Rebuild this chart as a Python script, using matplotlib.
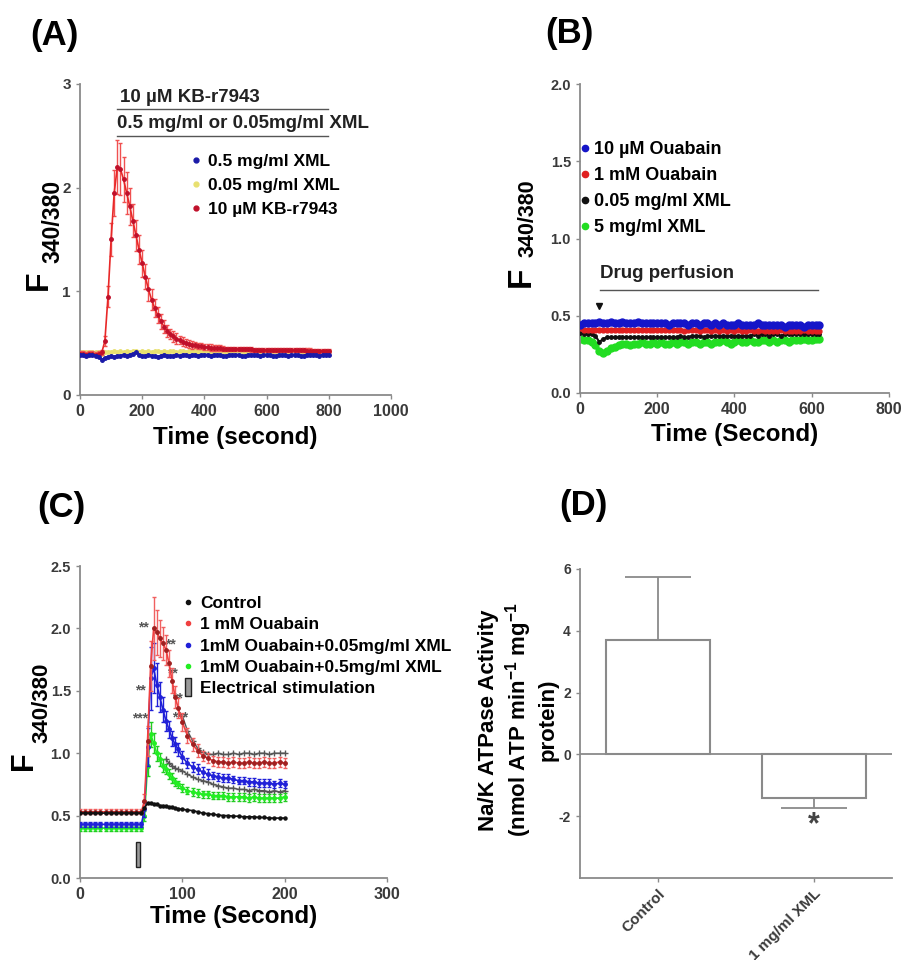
import numpy as np
import matplotlib
matplotlib.use("Agg")
import matplotlib.pyplot as plt
from matplotlib.lines import Line2D

plt.rcParams["font.family"] = ["Liberation Sans", "DejaVu Sans"]
plt.rcParams["font.weight"] = "bold"
plt.rcParams["axes.labelweight"] = "bold"
plt.rcParams["axes.unicode_minus"] = False
plt.rcParams["mathtext.fontset"] = "custom"
plt.rcParams["mathtext.rm"] = "Liberation Sans:bold"
plt.rcParams["mathtext.bf"] = "Liberation Sans:bold"
plt.rcParams["mathtext.default"] = "bf"

# ---------------- (A) KB-r7943 vs XML ----------------
A_time = np.arange(0, 810, 10)
A_kb = [0.40, 0.40, 0.39, 0.40, 0.40, 0.39, 0.40, 0.41, 0.52, 0.95,
        1.50, 1.95, 2.20, 2.18, 2.08, 1.95, 1.82, 1.68, 1.54, 1.40,
        1.27, 1.14, 1.02, 0.92, 0.84, 0.77, 0.71, 0.66, 0.62, 0.59,
        0.565, 0.545, 0.53, 0.515, 0.50, 0.49, 0.485, 0.48, 0.475, 0.47,
        0.465, 0.46, 0.458, 0.455, 0.452, 0.45, 0.448, 0.446, 0.445, 0.444,
        0.443, 0.442, 0.441, 0.44, 0.44, 0.439, 0.438, 0.437, 0.437, 0.436,
        0.435, 0.435, 0.434, 0.434, 0.433, 0.433, 0.432, 0.432, 0.431, 0.431,
        0.43, 0.43, 0.43, 0.429, 0.429, 0.428, 0.428, 0.428, 0.427, 0.427,
        0.427]
A_kb_err = [0.02, 0.02, 0.02, 0.02, 0.02, 0.02, 0.02, 0.02, 0.05, 0.10,
            0.16, 0.22, 0.26, 0.25, 0.22, 0.20, 0.18, 0.16, 0.15, 0.14,
            0.13, 0.12, 0.11, 0.10, 0.09, 0.08, 0.07, 0.06, 0.06, 0.05,
            0.05, 0.05, 0.04, 0.04, 0.04, 0.04, 0.04, 0.03, 0.03, 0.03,
            0.03, 0.03, 0.03, 0.03, 0.03, 0.03, 0.02, 0.02, 0.02, 0.02,
            0.02, 0.02, 0.02, 0.02, 0.02, 0.02, 0.02, 0.02, 0.02, 0.02,
            0.02, 0.02, 0.02, 0.02, 0.02, 0.02, 0.02, 0.02, 0.02, 0.02,
            0.02, 0.02, 0.02, 0.02, 0.02, 0.02, 0.02, 0.02, 0.02, 0.02,
            0.02]
A_xml05 = [0.39, 0.39, 0.38, 0.39, 0.39, 0.38, 0.37, 0.34, 0.36, 0.37,
           0.38, 0.37, 0.38, 0.38, 0.39, 0.38, 0.39, 0.40, 0.41, 0.39,
           0.38, 0.38, 0.39, 0.38, 0.38, 0.37, 0.38, 0.39, 0.38, 0.38,
           0.38, 0.39, 0.38, 0.39, 0.39, 0.38, 0.39, 0.39, 0.38, 0.39,
           0.39, 0.39, 0.38, 0.39, 0.39, 0.39, 0.38, 0.38, 0.39, 0.39,
           0.39, 0.39, 0.38, 0.38, 0.39, 0.39, 0.39, 0.39, 0.38, 0.39,
           0.39, 0.39, 0.38, 0.38, 0.39, 0.39, 0.39, 0.38, 0.39, 0.39,
           0.39, 0.38, 0.38, 0.39, 0.39, 0.39, 0.39, 0.38, 0.39, 0.39,
           0.39]
A_xml005 = [0.41, 0.41, 0.41, 0.41, 0.41, 0.41, 0.41, 0.40, 0.41, 0.41,
            0.41, 0.42, 0.41, 0.42, 0.41, 0.42, 0.41, 0.42, 0.42, 0.41,
            0.42, 0.41, 0.42, 0.41, 0.42, 0.42, 0.41, 0.42, 0.41, 0.42,
            0.42, 0.41, 0.42, 0.42, 0.41, 0.42, 0.42, 0.42, 0.41, 0.42,
            0.42, 0.42, 0.41, 0.42, 0.42, 0.42, 0.42, 0.41, 0.42, 0.42,
            0.42, 0.42, 0.42, 0.41, 0.42, 0.42, 0.42, 0.42, 0.42, 0.41,
            0.42, 0.42, 0.42, 0.42, 0.42, 0.41, 0.42, 0.42, 0.42, 0.42,
            0.42, 0.42, 0.41, 0.42, 0.42, 0.42, 0.42, 0.42, 0.42, 0.42,
            0.42]

# ---------------- (B) Ouabain / XML ----------------
B_time = np.arange(0, 630, 10)
B_oua10 = [0.44, 0.45, 0.45, 0.45, 0.45, 0.46, 0.45, 0.45, 0.46, 0.45,
           0.45, 0.46, 0.45, 0.45, 0.45, 0.46, 0.45, 0.45, 0.45, 0.45,
           0.45, 0.45, 0.45, 0.44, 0.45, 0.45, 0.45, 0.45, 0.44, 0.45,
           0.45, 0.44, 0.45, 0.45, 0.44, 0.45, 0.44, 0.45, 0.44, 0.44,
           0.44, 0.45, 0.44, 0.44, 0.44, 0.44, 0.45, 0.44, 0.44, 0.44,
           0.44, 0.44, 0.44, 0.43, 0.44, 0.44, 0.44, 0.44, 0.43, 0.44,
           0.44, 0.44, 0.44]
B_oua1 = [0.42, 0.41, 0.41, 0.41, 0.41, 0.41, 0.41, 0.41, 0.41, 0.41,
          0.41, 0.41, 0.41, 0.41, 0.41, 0.41, 0.41, 0.41, 0.41, 0.41,
          0.41, 0.41, 0.41, 0.41, 0.41, 0.41, 0.41, 0.40, 0.41, 0.41,
          0.41, 0.40, 0.41, 0.41, 0.40, 0.41, 0.40, 0.41, 0.40, 0.41,
          0.40, 0.41, 0.40, 0.40, 0.41, 0.40, 0.40, 0.41, 0.40, 0.40,
          0.40, 0.40, 0.41, 0.40, 0.40, 0.40, 0.40, 0.40, 0.41, 0.40,
          0.40, 0.40, 0.40]
B_xml005 = [0.39, 0.38, 0.38, 0.38, 0.37, 0.33, 0.35, 0.36, 0.36, 0.36,
            0.36, 0.36, 0.36, 0.36, 0.36, 0.36, 0.36, 0.36, 0.36, 0.36,
            0.36, 0.36, 0.36, 0.36, 0.36, 0.36, 0.37, 0.36, 0.36, 0.37,
            0.37, 0.37, 0.36, 0.37, 0.37, 0.37, 0.37, 0.37, 0.37, 0.37,
            0.37, 0.37, 0.37, 0.37, 0.37, 0.38, 0.37, 0.38, 0.38, 0.37,
            0.38, 0.38, 0.37, 0.38, 0.38, 0.38, 0.38, 0.38, 0.38, 0.38,
            0.38, 0.38, 0.38]
B_xml5 = [0.35, 0.34, 0.34, 0.33, 0.31, 0.27, 0.26, 0.27, 0.29, 0.30,
          0.31, 0.32, 0.32, 0.31, 0.32, 0.32, 0.33, 0.32, 0.32, 0.33,
          0.32, 0.33, 0.32, 0.32, 0.33, 0.32, 0.33, 0.33, 0.32, 0.33,
          0.33, 0.32, 0.33, 0.33, 0.32, 0.33, 0.33, 0.34, 0.33, 0.32,
          0.33, 0.34, 0.33, 0.33, 0.34, 0.33, 0.33, 0.34, 0.34, 0.33,
          0.34, 0.33, 0.34, 0.34, 0.33, 0.34, 0.34, 0.34, 0.35, 0.34,
          0.34, 0.35, 0.35]

# ---------------- (C) Electrical stimulation ----------------
C_time = [0, 5, 10, 15, 20, 25, 30, 35, 40, 45, 50, 55, 60,
          63, 66, 69, 72, 75, 78, 81, 84, 87, 90, 93, 96,
          100, 105, 110, 115, 120, 125, 130, 135, 140, 145, 150,
          155, 160, 165, 170, 175, 180, 185, 190, 195, 200]
C_control = [0.52, 0.52, 0.52, 0.52, 0.52, 0.52, 0.52, 0.52, 0.52, 0.52, 0.52, 0.52, 0.52,
             0.56, 0.60, 0.60, 0.59, 0.59, 0.58, 0.58, 0.575, 0.57, 0.565, 0.56, 0.555,
             0.55, 0.545, 0.54, 0.53, 0.52, 0.515, 0.51, 0.505, 0.50, 0.50, 0.495,
             0.495, 0.49, 0.49, 0.49, 0.485, 0.485, 0.48, 0.48, 0.48, 0.48]
C_oua = [0.53, 0.53, 0.53, 0.53, 0.53, 0.53, 0.53, 0.53, 0.53, 0.53, 0.53, 0.53, 0.53,
         0.62, 1.10, 1.70, 2.00, 1.97, 1.92, 1.88, 1.83, 1.72, 1.58, 1.45, 1.36,
         1.25, 1.14, 1.07, 1.02, 0.98, 0.96, 0.94, 0.93, 0.93, 0.92, 0.93,
         0.92, 0.92, 0.93, 0.92, 0.92, 0.93, 0.92, 0.92, 0.93, 0.92]
C_oua_err = [0.02, 0.02, 0.02, 0.02, 0.02, 0.02, 0.02, 0.02, 0.02, 0.02, 0.02, 0.02, 0.02,
             0.05, 0.12, 0.20, 0.25, 0.18, 0.15, 0.13, 0.12, 0.11, 0.10, 0.09, 0.08,
             0.07, 0.06, 0.05, 0.05, 0.04, 0.04, 0.04, 0.04, 0.04, 0.04, 0.04,
             0.04, 0.04, 0.04, 0.04, 0.04, 0.04, 0.04, 0.04, 0.04, 0.04]
C_oua005 = [0.43, 0.43, 0.43, 0.43, 0.43, 0.43, 0.43, 0.43, 0.43, 0.43, 0.43, 0.43, 0.43,
            0.55, 1.05, 1.60, 1.68, 1.55, 1.45, 1.35, 1.26, 1.19, 1.12, 1.07, 1.03,
            0.97, 0.92, 0.89, 0.87, 0.85, 0.83, 0.82, 0.81, 0.80, 0.80, 0.79,
            0.78, 0.78, 0.77, 0.77, 0.76, 0.76, 0.76, 0.75, 0.76, 0.75]
C_oua005_err = [0.02, 0.02, 0.02, 0.02, 0.02, 0.02, 0.02, 0.02, 0.02, 0.02, 0.02, 0.02, 0.02,
                0.06, 0.15, 0.25, 0.20, 0.17, 0.12, 0.10, 0.08, 0.07, 0.06, 0.06, 0.05,
                0.05, 0.04, 0.04, 0.04, 0.04, 0.04, 0.03, 0.03, 0.03, 0.03, 0.03,
                0.03, 0.03, 0.03, 0.03, 0.03, 0.03, 0.03, 0.03, 0.03, 0.03]
C_oua05 = [0.40, 0.40, 0.40, 0.40, 0.40, 0.40, 0.40, 0.40, 0.40, 0.40, 0.40, 0.40, 0.40,
           0.50, 0.90, 1.15, 1.08, 1.00, 0.95, 0.90, 0.87, 0.83, 0.80, 0.77, 0.75,
           0.72, 0.70, 0.69, 0.68, 0.67, 0.67, 0.66, 0.66, 0.66, 0.65, 0.65,
           0.65, 0.65, 0.64, 0.65, 0.64, 0.64, 0.64, 0.64, 0.64, 0.65]
C_oua05_err = [0.02, 0.02, 0.02, 0.02, 0.02, 0.02, 0.02, 0.02, 0.02, 0.02, 0.02, 0.02, 0.02,
               0.04, 0.08, 0.10, 0.08, 0.06, 0.05, 0.05, 0.04, 0.04, 0.04, 0.03, 0.03,
               0.03, 0.03, 0.03, 0.03, 0.03, 0.03, 0.03, 0.03, 0.03, 0.03, 0.03,
               0.03, 0.03, 0.03, 0.03, 0.03, 0.03, 0.03, 0.03, 0.03, 0.03]
nan = np.nan
C_grey_hi = [nan, nan, nan, nan, nan, nan, nan, nan, nan, nan, nan, nan, nan,
             nan, nan, nan, nan, nan, nan, nan, nan, nan, nan, nan, nan,
             1.30, 1.18, 1.10, 1.04, 1.01, 0.99, 0.99, 1.00, 0.99, 0.99, 1.00,
             0.99, 1.00, 1.00, 0.99, 1.00, 1.00, 0.99, 1.00, 1.00, 1.00]
C_grey_lo = [nan, nan, nan, nan, nan, nan, nan, nan, nan, nan, nan, nan, nan,
             nan, nan, nan, nan, nan, nan, nan, 0.95, 0.92, 0.90, 0.88, 0.87,
             0.86, 0.83, 0.81, 0.79, 0.78, 0.77, 0.75, 0.74, 0.73, 0.72, 0.72,
             0.71, 0.71, 0.70, 0.71, 0.70, 0.70, 0.69, 0.70, 0.69, 0.70]
C_stars = [(62, 2.01, "**"), (88, 1.87, "**"), (90, 1.64, "**"), (59, 1.50, "**"),
           (95, 1.44, "**"), (59, 1.28, "***"), (98, 1.29, "***")]
C_stim_t = [57]

# ---------------- (D) Na/K ATPase ----------------
D_groups = ["Control", "1 mg/ml XML"]
D_mean = [3.7, -1.4]
D_err_lo = [0.0, 0.32]
D_err_hi = [2.05, 0.0]

W, H = 904, 960
fig = plt.figure(figsize=(W / 100, H / 100), dpi=100)


def px_axes(l, t, r, b):
    return fig.add_axes([l / W, 1 - b / H, (r - l) / W, (b - t) / H])


GREY = "#8a8a8a"


def style(ax, ysize=11.5):
    for s in ("top", "right"):
        ax.spines[s].set_visible(False)
    for s in ("left", "bottom"):
        ax.spines[s].set_color(GREY)
        ax.spines[s].set_linewidth(1.3)
    ax.tick_params(direction="out", length=3, width=1, color=GREY,
                   labelsize=11.5, labelcolor="#3a3a3a")
    ax.tick_params(axis="y", labelsize=ysize)


def flabel(xF, yF, fsF, xN, yN, fsN):
    # "F" + "340/380" drawn as two rotated texts (baseline x, bottom y in px)
    fig.text(xF / W, 1 - yF / H, "F", rotation=90, rotation_mode="anchor",
             ha="left", va="baseline", fontsize=fsF, fontweight="bold")
    fig.text(xN / W, 1 - yN / H, "340/380", rotation=90, rotation_mode="anchor",
             ha="left", va="baseline", fontsize=fsN, fontweight="bold")


# ---- A ----
axA = px_axes(80, 84, 391, 395)
axA.plot(A_time, A_xml005, "-o", color="#e8e070", ms=2.5, lw=1.2, zorder=2)
axA.errorbar(A_time, A_kb, yerr=A_kb_err, fmt="-o", color="#e82828", ms=2.5, lw=1.2,
             mfc="#c0102a", mec="#c0102a", ecolor="#f05050", elinewidth=1, capsize=1.5, zorder=3)
axA.plot(A_time, A_xml05, "-o", color="#1a1aa8", ms=2.5, lw=1.5, zorder=4)
axA.set_xlim(0, 1000)
axA.set_ylim(0, 3)
axA.set_xticks([0, 200, 400, 600, 800, 1000])
axA.set_yticks([0, 1, 2, 3])
style(axA, 11)
axA.set_xlabel("Time (second)", fontsize=17.5, labelpad=5)
axA.plot([118, 798], [2.76, 2.76], color="#555555", lw=1)
axA.plot([118, 798], [2.50, 2.50], color="#555555", lw=1)
axA.text(129, 2.79, "10 µM KB-r7943", fontsize=13.5, va="bottom", color="#222222")
axA.text(118, 2.535, "0.5 mg/ml or 0.05mg/ml XML", fontsize=13.5, va="bottom", color="#222222")
axA.legend([Line2D([], [], ls="none", marker="o", ms=3.5, color=c) for c in ("#1a1aa8", "#e8e070", "#c0102a")],
           ["0.5 mg/ml XML", "0.05 mg/ml XML", "10 µM KB-r7943"],
           loc="upper left", bbox_to_anchor=(0.355, 0.775),
           frameon=False, fontsize=12.5, handlelength=0.6, handletextpad=0.4,
           labelspacing=0.5, borderpad=0, borderaxespad=0)
flabel(47, 290, 23, 59, 263, 16.5)
fig.text(30 / W, 1 - 35 / H, "(A)", fontsize=25, fontweight="bold", va="center", ha="left")

# ---- B ----
axB = px_axes(580, 84, 889, 393)
axB.plot(B_time, B_xml5, "-o", color="#22dd22", ms=5, lw=3, zorder=2)
axB.plot(B_time, B_xml005, "-o", color="#111111", ms=2.5, lw=1.5, zorder=3)
axB.plot(B_time, B_oua1, "-o", color="#e02020", ms=3.5, lw=2, zorder=4)
axB.plot(B_time, B_oua10, "-o", color="#1515c8", ms=5, lw=3, zorder=5)
axB.set_xlim(0, 800)
axB.set_ylim(0, 2.0)
axB.set_xticks([0, 200, 400, 600, 800])
axB.set_yticks([0, 0.5, 1.0, 1.5, 2.0])
axB.set_yticklabels(["0.0", "0.5", "1.0", "1.5", "2.0"])
style(axB, 10.5)
axB.set_xlabel("Time (Second)", fontsize=17.5, labelpad=4)
axB.plot([52, 616], [0.667, 0.667], color="#555555", lw=1)
axB.text(52, 0.72, "Drug perfusion", fontsize=13.5, va="bottom", color="#222222")
axB.plot([50], [0.56], marker="v", color="#111111", ms=5, ls="none")
axB.legend([Line2D([], [], ls="none", marker="o", ms=4.5, color=c) for c in ("#1515c8", "#e02020", "#111111", "#22dd22")],
           ["10 µM Ouabain", "1 mM Ouabain", "0.05 mg/ml XML", "5 mg/ml XML"],
           loc="upper left", bbox_to_anchor=(0.005, 0.815), frameon=False, fontsize=13,
           handlelength=0.4, handletextpad=0.3, labelspacing=0.5, borderpad=0, borderaxespad=0)
flabel(530, 287, 24, 534, 257, 15.5)
fig.text(545 / W, 1 - 33 / H, "(B)", fontsize=25, fontweight="bold", va="center", ha="left")

# ---- C ----
axC = px_axes(80, 566, 387, 878)
kw = dict(ms=2.5, lw=1.2, capsize=1.5, elinewidth=1)
axC.plot(C_time, C_grey_hi, "-+", color="#555555", ms=4, lw=1, zorder=2)
axC.plot(C_time, C_grey_lo, "-+", color="#555555", ms=4, lw=1, zorder=2)
axC.errorbar(C_time, C_oua05, yerr=C_oua05_err, fmt="-o", color="#22ee22", ecolor="#22cc22", zorder=3, **kw)
axC.errorbar(C_time, C_oua005, yerr=C_oua005_err, fmt="-o", color="#2020d8", ecolor="#2020d8", zorder=4, **kw)
axC.errorbar(C_time, C_oua, yerr=C_oua_err, fmt="-o", color="#f04040", ecolor="#f06060",
             mfc="#a02020", mec="#a02020", zorder=5, **kw)
axC.plot(C_time, C_control, "-o", color="#111111", ms=2.2, lw=1.2, zorder=6)
axC.bar(C_stim_t, [0.2], bottom=0.09, width=4, color="#9a9a9a", edgecolor="#222222", lw=1, zorder=3)
for t, v, s in C_stars:
    axC.text(t, v, s, fontsize=10, ha="center", va="center", color="#555555")
axC.set_xlim(0, 300)
axC.set_ylim(0, 2.5)
axC.set_xticks([0, 100, 200, 300])
axC.set_yticks([0, 0.5, 1.0, 1.5, 2.0, 2.5])
axC.set_yticklabels(["0.0", "0.5", "1.0", "1.5", "2.0", "2.5"])
style(axC, 10.5)
axC.set_xlabel("Time (Second)", fontsize=17.5, labelpad=2)
rect = [(-0.35, -1), (0.35, -1), (0.35, 1), (-0.35, 1), (-0.35, -1)]
handlesC = [Line2D([], [], ls="none", marker="o", ms=3, color="#111111"),
            Line2D([], [], ls="none", marker="o", ms=3, color="#f04040"),
            Line2D([], [], ls="none", marker="o", ms=3, color="#2020d8"),
            Line2D([], [], ls="none", marker="o", ms=3, color="#22ee22"),
            Line2D([], [], ls="none", marker=rect, ms=13, mfc="#9a9a9a", mec="#222222", mew=1)]
axC.legend(handlesC, ["Control", "1 mM Ouabain", "1mM Ouabain+0.05mg/ml XML",
                      "1mM Ouabain+0.5mg/ml XML", "Electrical stimulation"],
           loc="upper left", bbox_to_anchor=(0.335, 0.905), frameon=False, fontsize=12.5,
           handlelength=0.6, handletextpad=0.4, labelspacing=0.36, borderpad=0, borderaxespad=0)
flabel(32, 770, 22, 47, 743, 16)
fig.text(37 / W, 1 - 507 / H, "(C)", fontsize=25, fontweight="bold", va="center", ha="left")

# ---- D ----
axD = px_axes(580, 569, 892, 878)
xD = np.arange(len(D_groups))
axD.bar(xD, D_mean, width=0.67, color="white", edgecolor=GREY, lw=1.5, zorder=2)
axD.errorbar(xD, D_mean, yerr=[D_err_lo, D_err_hi], fmt="none", ecolor=GREY, elinewidth=1.3,
             capsize=24, capthick=1.3, zorder=3)
axD.axhline(0, color=GREY, lw=1.3, zorder=1)
axD.text(1, -2.3, "*", fontsize=22, ha="center", va="center", color="#444444")
axD.set_xlim(-0.5, 1.5)
axD.set_ylim(-4, 6)
axD.set_yticks([-2, 0, 2, 4, 6])
axD.set_xticks(xD)
axD.set_xticklabels(D_groups, rotation=45, ha="right", rotation_mode="anchor")
style(axD, 10)
axD.tick_params(axis="x", labelsize=11)
fig.text(518 / W, 1 - 720 / H,
         "Na/K ATPase Activity\n(nmol ATP min$^{-1}$ mg$^{-1}$\nprotein)",
         rotation=90, ha="center", va="center", multialignment="center",
         fontsize=16, fontweight="bold", linespacing=1.2)
fig.text(559 / W, 1 - 506 / H, "(D)", fontsize=25, fontweight="bold", va="center", ha="left")

fig.savefig("out.png", dpi=100)
